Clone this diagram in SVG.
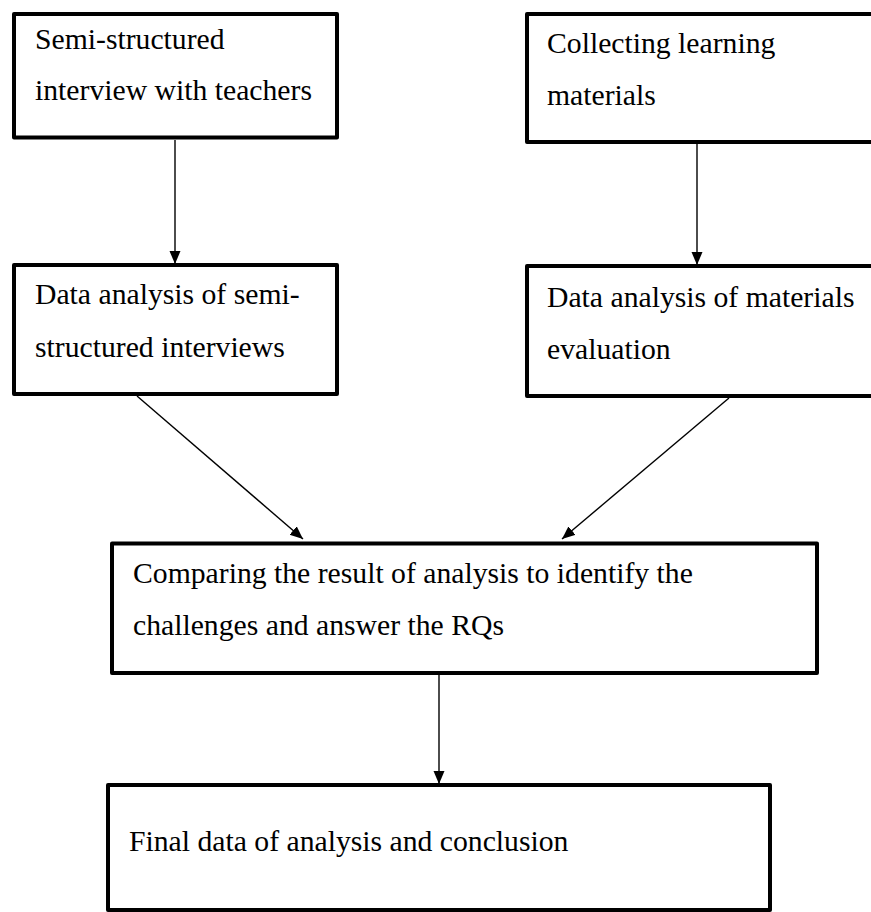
<svg xmlns="http://www.w3.org/2000/svg" width="871" height="912" viewBox="0 0 871 912">
<style>
.box{fill:#fff;stroke:#000;stroke-width:4;stroke-linejoin:round}
.t{font-family:"Liberation Serif","Times New Roman",serif;font-size:29.7px;fill:#000}
.c{stroke:#000;stroke-width:1.4;fill:none}
</style>
<defs>
<marker id="ah" markerUnits="userSpaceOnUse" markerWidth="14" markerHeight="12" refX="13" refY="5.5" orient="auto">
<path d="M0,0 L13,5.5 L0,11 z" fill="#000"/>
</marker>
</defs>
<rect width="871" height="912" fill="#fff"/>
<g id="connectors">
<line class="c" x1="175" y1="140" x2="175" y2="264" marker-end="url(#ah)"/>
<line class="c" x1="697" y1="144" x2="697" y2="265" marker-end="url(#ah)"/>
<line class="c" x1="137" y1="396" x2="303" y2="539" marker-end="url(#ah)"/>
<line class="c" x1="729" y1="398" x2="562" y2="539" marker-end="url(#ah)"/>
<line class="c" x1="439" y1="675" x2="439" y2="784" marker-end="url(#ah)"/>
</g>
<g id="n1">
<rect class="box" x="14" y="14" width="323" height="123.5"/>
<text class="t" x="35" y="49.3">Semi-structured</text>
<text class="t" x="35" y="100">interview with teachers</text>
</g>
<g id="n2">
<rect class="box" x="527" y="14" width="350" height="128"/>
<text class="t" x="547" y="53.3">Collecting learning</text>
<text class="t" x="547" y="104.5">materials</text>
</g>
<g id="n3">
<rect class="box" x="14" y="265" width="323" height="129"/>
<text class="t" x="35" y="304.3">Data analysis of semi-</text>
<text class="t" x="35" y="357.3">structured interviews</text>
</g>
<g id="n4">
<rect class="box" x="527" y="266" width="350" height="130"/>
<text class="t" x="547" y="306.7">Data analysis of materials</text>
<text class="t" x="547" y="359">evaluation</text>
</g>
<g id="n5">
<rect class="box" x="112" y="543.5" width="705" height="129.5"/>
<text class="t" x="133" y="583.3">Comparing the result of analysis to identify the</text>
<text class="t" x="133" y="635">challenges and answer the RQs</text>
</g>
<g id="n6">
<rect class="box" x="108" y="785" width="662" height="125"/>
<text class="t" x="129" y="850.7">Final data of analysis and conclusion</text>
</g>
</svg>
